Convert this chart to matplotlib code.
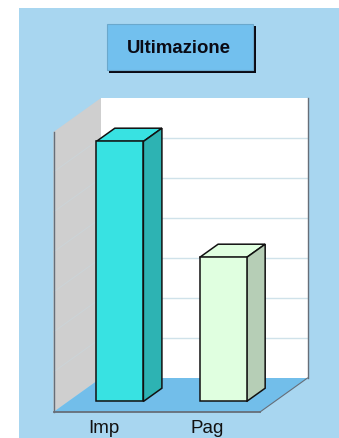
import matplotlib
matplotlib.use("Agg")
import matplotlib.pyplot as plt
from matplotlib.patches import Polygon, Rectangle

plt.rcParams['font.family'] = ['Liberation Sans', 'DejaVu Sans']

# data
categories = ["Imp", "Pag"]
values = [65, 36]
front_colors = ["#38E2E2", "#E0FFE0"]
side_colors = ["#2DB3B3", "#B6CEB6"]
grid_values = [10, 20, 30, 40, 50, 60, 70]

W, H = 339, 439
fig = plt.figure(figsize=(W / 100, H / 100), dpi=100, facecolor="white")

# background axes in pixels, for panel and title box
bg = fig.add_axes([0, 0, 1, 1])
bg.set_xlim(0, W)
bg.set_ylim(H, 0)
bg.axis("off")
bg.add_patch(Rectangle((19, 9), W - 19, H - 9, fc="#A8D6F0", ec="none"))
bg.add_patch(Rectangle((109, 27), 146.5, 46.5, fc="#0A0A14", ec="none"))
bg.add_patch(Rectangle((106.5, 24.5), 146, 46, fc="#72C0EE", ec="#6AA8CC", lw=0.8))
bg.text(179, 48.5, "Ultimazione", ha="center", va="center", fontsize=13.4,
        fontweight="bold", color="#0A0A14")

# chart axes: front plane of the 3d box
left, right, bottom, top = 53.5, 260, 413, 133
ax = fig.add_axes([left / W, 1 - bottom / H, (right - left) / W, (bottom - top) / H])
ax.set_xlim(0, 2)
ax.set_ylim(0, 70)
ax.patch.set_alpha(0)
for s in ax.spines.values():
    s.set_visible(False)
ax.set_yticks([])
ax.set_xticks([0.49, 1.49])
ax.set_xticklabels(categories, fontsize=13.5, color="#111111")
ax.tick_params(axis="x", length=0, pad=5)

# depth offset of the back plane, in axis units
DX = 47.5 * 2 / (right - left)
DY = 34 * 70 / (bottom - top)


def pt(x, v, d):
    return (x + d * DX, v + d * DY)


def poly(points, **kw):
    ax.add_patch(Polygon(points, closed=True, clip_on=False, **kw))


# walls and floor
poly([pt(0, 0, 1), pt(2, 0, 1), pt(2, 70, 1), pt(0, 70, 1)], fc="white", ec="none", zorder=1)
poly([pt(0, 0, 0), pt(0, 0, 1), pt(0, 70, 1), pt(0, 70, 0)], fc="#CFCFCF", ec="none", zorder=1)
poly([pt(0, 0, 0), pt(2, 0, 0), pt(2, 0, 1), pt(0, 0, 1)], fc="#72BEEA", ec="none", zorder=1)

for g in grid_values[:-1]:
    xs, ys = zip(pt(0, g, 1), pt(2, g, 1))
    ax.plot(xs, ys, color="#CFE2EA", lw=1, clip_on=False, zorder=2)
    xs, ys = zip(pt(0, g, 0), pt(0, g, 1))
    ax.plot(xs, ys, color="#CCD4D8", lw=0.7, clip_on=False, zorder=2)

edge = "#666E78"
for a, b, lw in [(pt(0, 0, 0), pt(0, 70, 0), 1),
                 (pt(2, 0, 1), pt(2, 70, 1), 1),
                 (pt(0, 0, 0), pt(2, 0, 0), 1.3),
                 (pt(2, 0, 0), pt(2, 0, 1), 0.8)]:
    ax.plot([a[0], b[0]], [a[1], b[1]], color=edge, lw=lw, clip_on=False, zorder=3)

# bars
bar_w = 0.456
d0, d1 = 0.31, 0.70
line = dict(ec="#111111", lw=1.1, joinstyle="miter", zorder=4)
for i, v in enumerate(values):
    x0 = i + 0.5 - bar_w / 2
    x1 = x0 + bar_w
    poly([pt(x0, v, d0), pt(x1, v, d0), pt(x1, v, d1), pt(x0, v, d1)], fc=front_colors[i], **line)
    poly([pt(x1, 0, d0), pt(x1, 0, d1), pt(x1, v, d1), pt(x1, v, d0)], fc=side_colors[i], **line)
    poly([pt(x0, 0, d0), pt(x1, 0, d0), pt(x1, v, d0), pt(x0, v, d0)], fc=front_colors[i], **line)

fig.savefig("out.png", dpi=100)
